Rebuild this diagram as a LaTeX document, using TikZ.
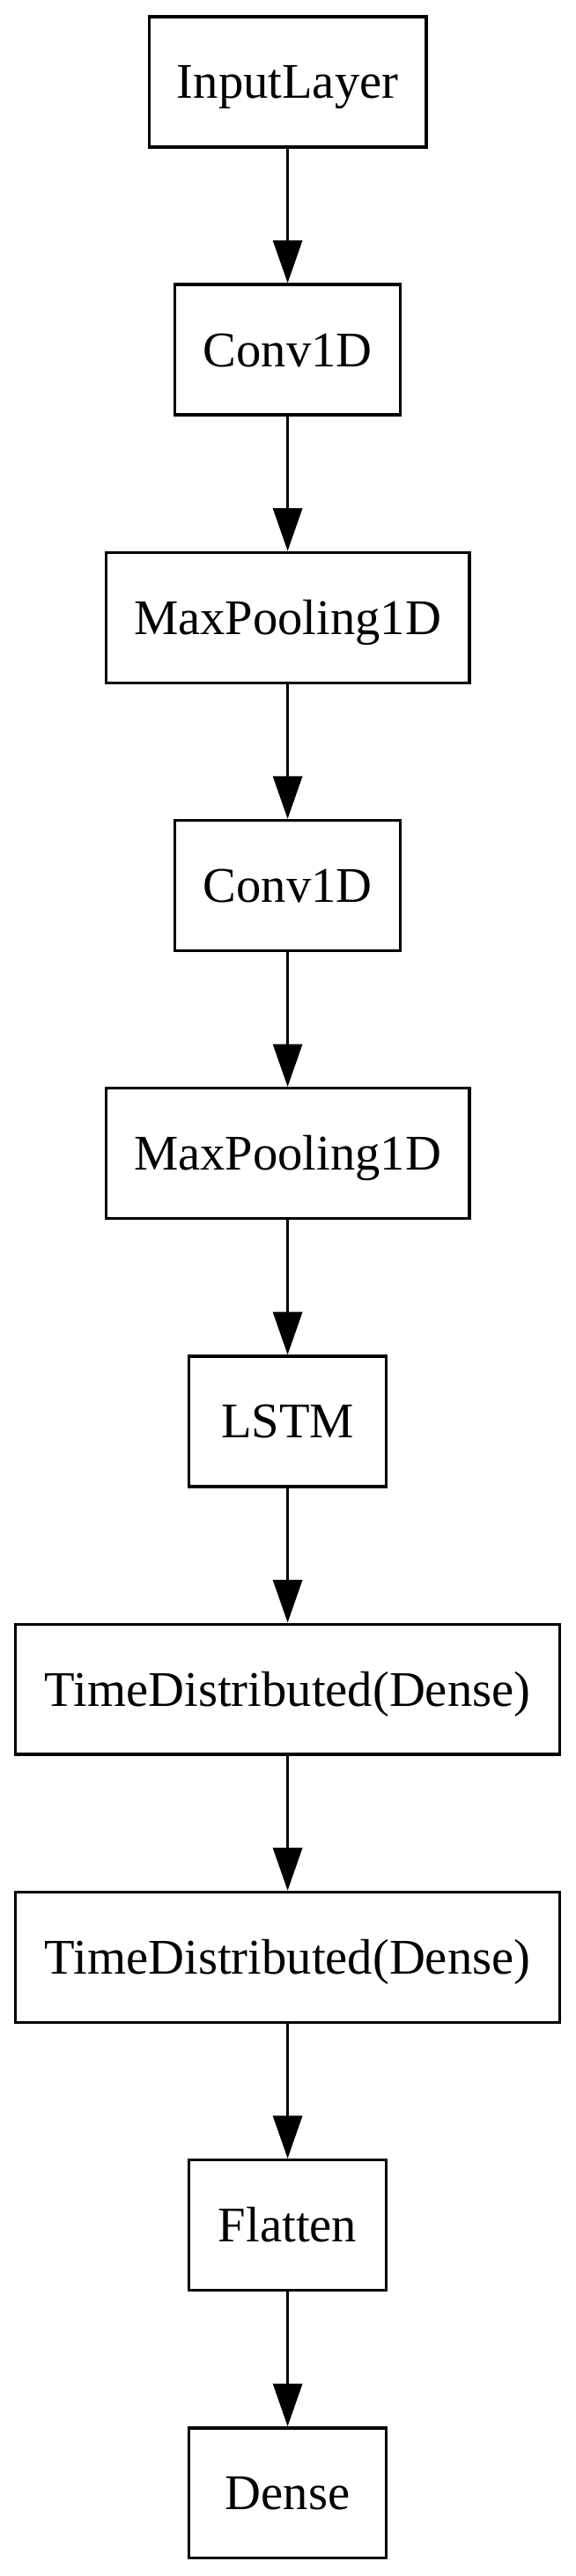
\documentclass[tikz,border=0pt]{standalone}
\usepackage{fontspec}
\setmainfont{Liberation Serif}
\usepackage{tikz}
\usetikzlibrary{arrows.meta, positioning}

\begin{document}
\begin{tikzpicture}[
    font=\fontsize{13.4}{16}\selectfont,
    >={Triangle[length=11.5pt, width=7.8pt]},
    line width=0.8pt,
    node distance=36.2pt,
    layer/.style={
        draw,
        rectangle,
        minimum height=35pt,
        inner xsep=0pt,
        text height=9pt,
        text depth=0pt,
        align=center
    }
]

\useasboundingbox (0,0) rectangle (154.6pt,692.3pt);

% Layers
\node[layer, minimum width=74.5pt] (input) at (77.3pt,670.3pt) {InputLayer};
\node[layer, minimum width=60.5pt, below=of input] (conv1) {Conv1D};
\node[layer, minimum width=97.7pt, below=of conv1] (pool1) {MaxPooling1D};
\node[layer, minimum width=60.5pt, below=of pool1] (conv2) {Conv1D};
\node[layer, minimum width=97.7pt, below=of conv2] (pool2) {MaxPooling1D};
\node[layer, minimum width=53pt, below=of pool2] (lstm) {LSTM};
\node[layer, minimum width=146.2pt, below=of lstm] (tdense1) {TimeDistributed(Dense)};
\node[layer, minimum width=146.2pt, below=of tdense1] (tdense2) {TimeDistributed(Dense)};
\node[layer, minimum width=53pt, below=of tdense2] (flatten) {Flatten};
\node[layer, minimum width=53pt, below=of flatten] (dense) {Dense};

% Connections
\foreach \a/\b in {input/conv1, conv1/pool1, pool1/conv2, conv2/pool2,
    pool2/lstm, lstm/tdense1, tdense1/tdense2, tdense2/flatten, flatten/dense}
    \draw[->] (\a) -- (\b);

\end{tikzpicture}
\end{document}
